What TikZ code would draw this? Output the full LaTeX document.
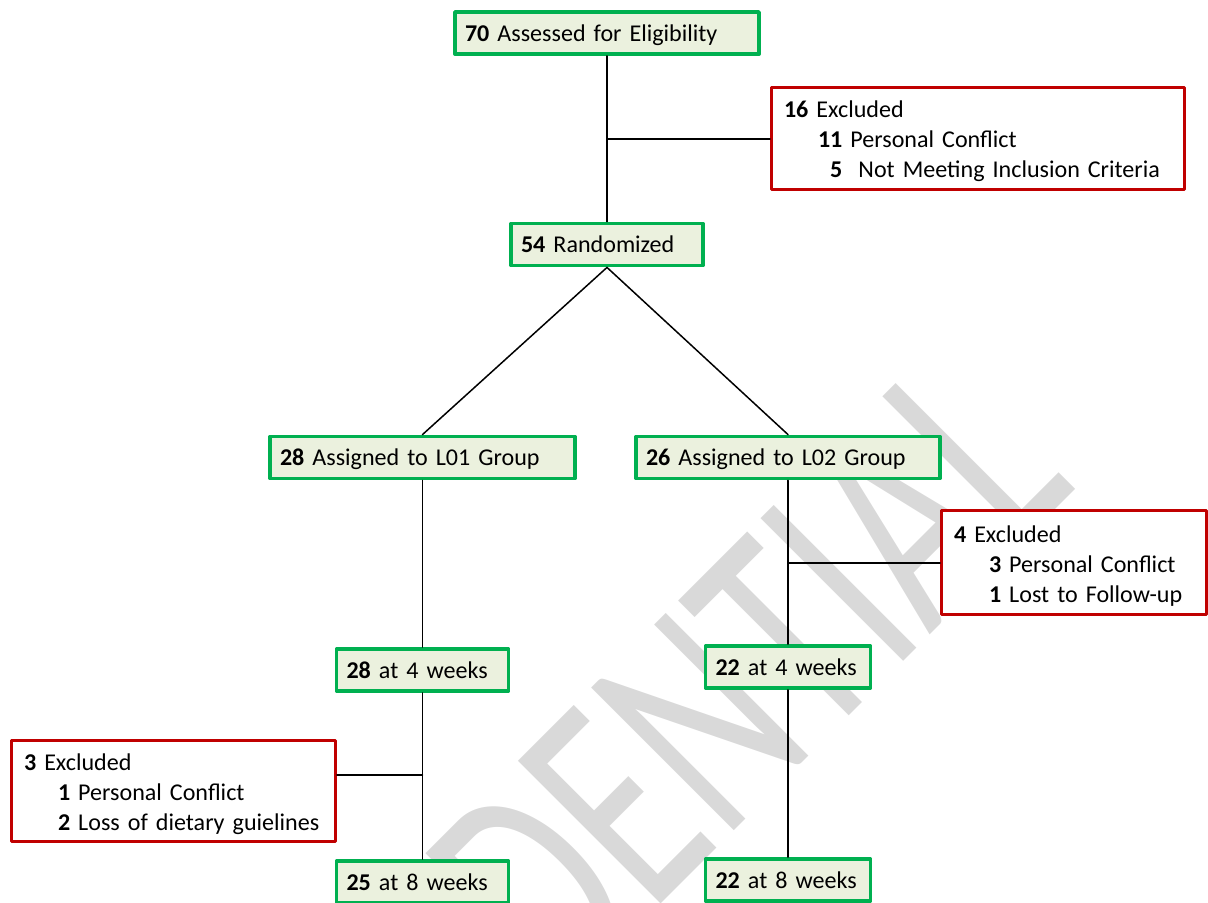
\documentclass[tikz,border=0pt]{standalone}
\usepackage{fontspec}
\setmainfont{Carlito}
\usepackage{graphicx}
\definecolor{boxgreen}{HTML}{00B050}
\definecolor{boxfill}{HTML}{EBF1DE}
\definecolor{boxred}{HTML}{C00000}
\definecolor{markgray}{HTML}{D9D9D9}
\begin{document}
\begin{tikzpicture}[line join = round, line cap = round, x=0.02cm, y=-0.02cm,
		keep/.style={draw=boxgreen,fill=boxfill,line width=2.2pt,minimum height=0.84cm,inner xsep=0.2cm,inner ysep=0pt,text height=0.45cm,text depth=0.13cm,align=left,font=\fontsize{13.7}{16.8}\selectfont},
		drop/.style={draw=boxred,fill=white,line width=1.7pt,inner xsep=0.25cm,inner ysep=0pt,align=left,font=\fontsize{13.7}{17.1}\selectfont,execute at begin node={\rule{0pt}{0.46cm}}},
		wmark/.style={anchor=base,rotate=45,inner sep=0pt,text=markgray,font=\fontsize{179}{200}\selectfont}]
		%Flow of participants - watermark behind the boxes
		\useasboundingbox (0,0) rectangle (1208,903);
		\clip (0,0) rectangle (1208,903);
		\node[wmark] (wm) at (629,936) {\scalebox{0.67}[1]{CONFIDENTIAL}};
		\node[keep,text width=5.68cm] (elig) at (607,33) {\textbf{70} Assessed for Eligibility};
		\node[keep,text width=3.44cm] (rand) at (607,244.5) {\textbf{54} Randomized};
		\node[keep,text width=5.7cm] (grpA) at (422.5,457.5) {\textbf{28} Assigned to L01 Group};
		\node[keep,text width=5.68cm] (grpB) at (788,457.5) {\textbf{26} Assigned to L02 Group};
		\node[keep,text width=3.04cm] (wkA4) at (422.5,670) {\textbf{28} at 4 weeks};
		\node[keep,text width=2.9cm] (wkB4) at (788,667) {\textbf{22} at 4 weeks};
		\node[keep,text width=3.04cm] (wkA8) at (422.5,882) {\textbf{25} at 8 weeks};
		\node[keep,text width=2.9cm] (wkB8) at (788,880) {\textbf{22} at 8 weeks};
		\node[drop,text width=7.76cm,minimum height=2.04cm] (exA) at (978,138.5) {\textbf{16} Excluded\\
			\hspace*{0.68cm}\textbf{11} Personal Conflict\\
			\hspace*{0.68cm}\textbf{\phantom{1}5}\ \ Not Meeting Inclusion Criteria};
		\node[drop,text width=4.8cm,minimum height=2.08cm] (exB) at (1074,562.5) {\textbf{4} Excluded\\
			\hspace*{0.7cm}\textbf{3} Personal Conflict\\
			\hspace*{0.7cm}\textbf{1} Lost to Follow-up};
		\node[drop,text width=5.98cm,minimum height=2.02cm] (exC) at (173.5,791) {\textbf{3} Excluded\\
			\hspace*{0.68cm}\textbf{1} Personal Conflict\\
			\hspace*{0.68cm}\textbf{2} Loss of dietary guielines};
		\coordinate (jA) at (607,139);
		\coordinate (jB) at (788,563);
		\coordinate (jC) at (422.5,775);
		\foreach \p/\q in {elig/rand,rand/grpA,rand/grpB,grpA/wkA4,wkA4/wkA8,grpB/wkB4,wkB4/wkB8}
		\draw[line width=0.85pt](\p.south)--(\q.north);
		\foreach \p/\q in {jA/exA.west,jB/exB.west,jC/exC.east}
		\draw[line width=0.85pt](\p)--(\p -| \q);
	\end{tikzpicture}
\end{document}
